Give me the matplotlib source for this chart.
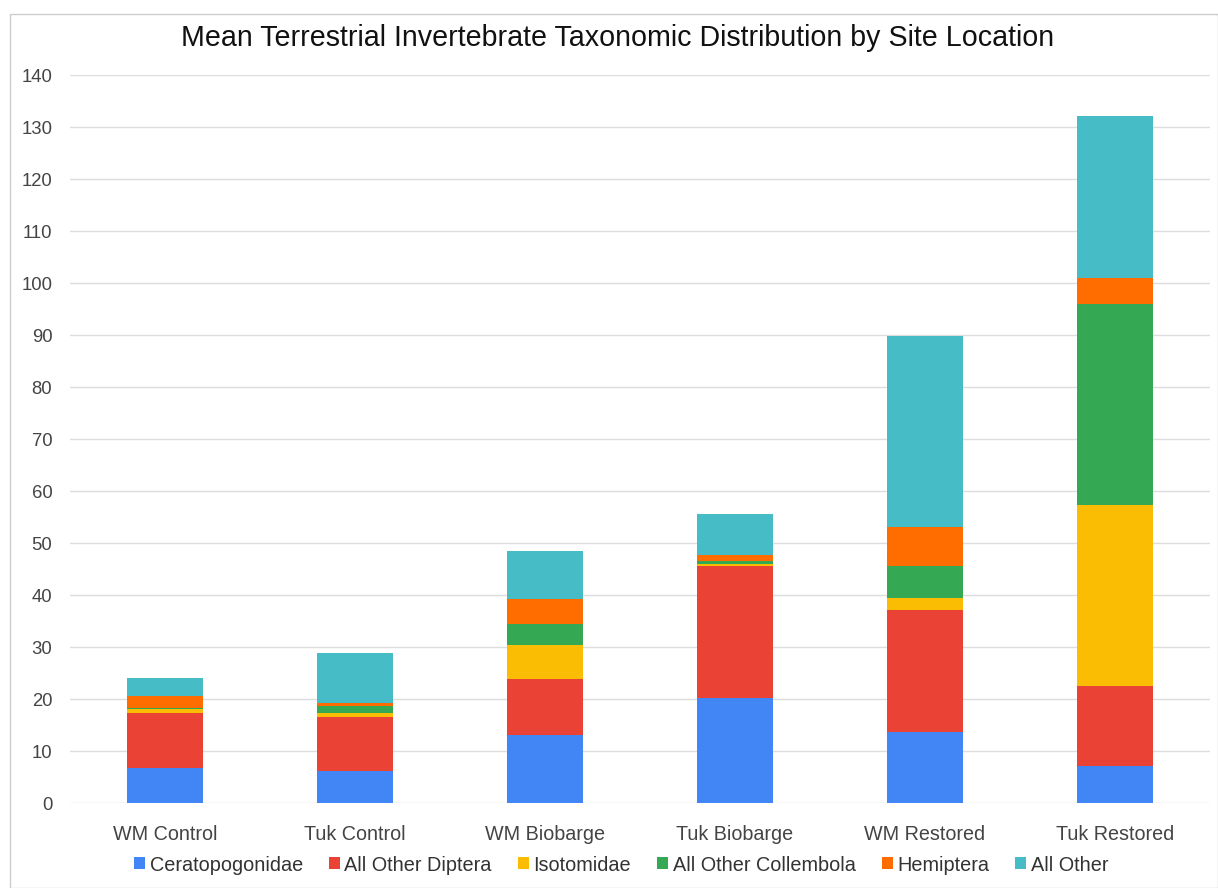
import matplotlib
matplotlib.use("Agg")
import matplotlib.pyplot as plt
from matplotlib.patches import Rectangle
import numpy as np

plt.rcParams['font.family'] = ['Liberation Sans', 'DejaVu Sans']

sites = ["WM Control", "Tuk Control", "WM Biobarge", "Tuk Biobarge", "WM Restored", "Tuk Restored"]
ceratopogonidae = [6.8, 6.2, 13.0, 20.2, 13.7, 7.15]
other_diptera = [10.6, 10.4, 10.8, 25.3, 23.4, 15.35]
isotomidae = [0.7, 0.65, 6.6, 0.5, 2.4, 34.9]
other_collembola = [0.1, 1.35, 4.0, 0.5, 6.0, 38.5]
hemiptera = [2.3, 0.6, 4.8, 1.25, 7.6, 5.1]
all_other = [3.6, 9.6, 9.2, 7.85, 36.7, 31.2]

series = [
    ("Ceratopogonidae", ceratopogonidae, "#4285F4"),
    ("All Other Diptera", other_diptera, "#EA4335"),
    ("Isotomidae", isotomidae, "#FBBC04"),
    ("All Other Collembola", other_collembola, "#34A853"),
    ("Hemiptera", hemiptera, "#FF6D01"),
    ("All Other", all_other, "#46BDC6"),
]
yticks = list(range(0, 141, 10))

fig = plt.figure(figsize=(12.18, 8.88), dpi=100)
ax = fig.add_axes([70/1218, 1-803/888, 1140/1218, 728/888])

x = np.arange(len(sites))
bottom = np.zeros(len(sites))
for name, vals, col in series:
    ax.bar(x, vals, bottom=bottom, width=0.395, color=col, label=name, zorder=3)
    bottom += np.array(vals)

ax.set_xlim(-0.5, len(sites) - 0.5)
ax.set_ylim(0, 140)
ax.set_yticks(yticks)
ax.set_xticks(x)
ax.set_xticklabels(sites)
ax.tick_params(axis='y', length=0, labelsize=13.3, colors='#444444', pad=12.7)
ax.tick_params(axis='x', length=0, labelsize=14.2, colors='#444444', pad=16)
ax.grid(axis='y', color='#dddddd', linewidth=1, zorder=0)
for s in ax.spines.values():
    s.set_visible(False)

fig.text(0.507, 1-38/888, "Mean Terrestrial Invertebrate Taxonomic Distribution by Site Location",
         ha='center', va='center', fontsize=20.6, color='#111111')

fig.legend(loc='center', bbox_to_anchor=(0.510, 1-865/888), ncol=6, frameon=False,
           fontsize=14.3, handlelength=0.55, handleheight=0.55, handletextpad=0.25,
           columnspacing=1.3, labelcolor='#333333')

fig.patches.append(Rectangle((10/1218, 0), 1-10/1218, 1-14/888, transform=fig.transFigure,
                             fill=False, edgecolor='#cccccc', linewidth=1))

fig.savefig("out.png", dpi=100)
